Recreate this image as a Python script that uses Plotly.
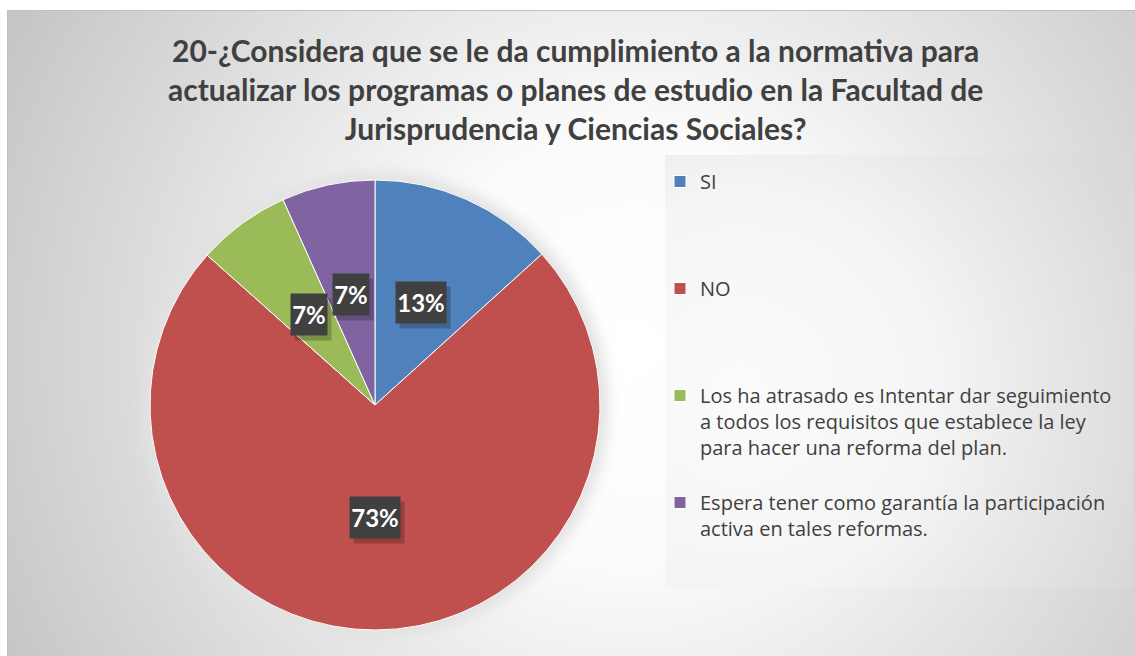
"""
Encuesta, pregunta 20: cumplimiento de la normativa para actualizar
los planes de estudio (grafico de pastel).
"""
import base64
import math

import plotly.graph_objects as go

# ---- Datos ----
categorias = [
    "SI",
    "NO",
    "Los ha atrasado es Intentar dar seguimiento<br>"
    "a todos los requisitos que establece la ley<br>"
    "para hacer una reforma del plan.",
    "Espera tener como garantía la participación<br>"
    "activa en tales reformas.",
]
porcentajes = [13.3, 73.3, 6.7, 6.7]
colores = ["#4f81bd", "#c0504d", "#9bbb59", "#8064a2"]

titulo = ("20-¿Considera que se le da cumplimiento a la normativa para<br>"
          "actualizar los programas o planes de estudio en la Facultad de<br>"
          "Jurisprudencia y Ciencias Sociales?")

# ---- Geometria (px) ----
W, H = 1135, 656
CX, CY, R = 375, 405, 225
FUENTE = "Lato, Calibri, Carlito, sans-serif"
FUENTE_LEYENDA = "'Open Sans', Calibri, sans-serif"
GRIS_TEXTO = "#404040"


def fondo_svg():
    """Fondo con degradado radial, marco, halo del pastel y caja de leyenda."""
    svg = f"""<svg xmlns="http://www.w3.org/2000/svg" width="{W}" height="{H}"
 viewBox="0 0 {W} {H}">
<defs>
 <radialGradient id="g" gradientUnits="userSpaceOnUse" cx="630" cy="350"
  r="720">
  <stop offset="0" stop-color="#ffffff"/>
  <stop offset="0.3" stop-color="#fbfbfb"/>
  <stop offset="1" stop-color="#c3c3c3"/>
 </radialGradient>
 <radialGradient id="lg" gradientUnits="userSpaceOnUse" cx="740" cy="390"
  r="430">
  <stop offset="0" stop-color="#fbfbfb"/>
  <stop offset="0.45" stop-color="#f5f5f5"/>
  <stop offset="1" stop-color="#d9d9d9"/>
 </radialGradient>
 <filter id="b" x="-20%" y="-20%" width="140%" height="140%">
  <feGaussianBlur stdDeviation="7"/>
 </filter>
</defs>
<rect x="0" y="0" width="{W}" height="{H}" fill="#ffffff"/>
<rect x="7.5" y="10.5" width="{W - 7}" height="{H - 10}" fill="url(#g)"
 stroke="#bfbfbf" stroke-width="1"/>
<rect x="665" y="155" width="467" height="433" fill="url(#lg)"/>
<circle cx="{CX}" cy="{CY}" r="{R + 8}" fill="#e2e2e2" filter="url(#b)"/>
</svg>"""
    return "data:image/svg+xml;base64," + base64.b64encode(
        svg.encode("utf-8")).decode("ascii")


def etiquetas_datos():
    """Cajas oscuras con el porcentaje, a media distancia del radio."""
    total = sum(porcentajes)
    anots = []
    acumulado = 0
    for valor in porcentajes:
        medio = (acumulado + valor / 2) / total * 2 * math.pi
        acumulado += valor
        px = CX + 0.5 * R * math.sin(medio)
        py = CY - 0.5 * R * math.cos(medio)
        texto = f"{round(valor / total * 100)}%"
        ancho = 14 * len(texto) + 8
        base = dict(x=px / W, y=1 - py / H, xref="paper", yref="paper",
                    xanchor="center", yanchor="middle",
                    showarrow=False, width=ancho, height=41, borderpad=0,
                    font=dict(family=FUENTE, size=24, color="white"))
        # sombra
        anots.append(dict(base, text=" ", xshift=4, yshift=-5,
                          bgcolor="rgba(0,0,0,0.22)"))
        anots.append(dict(base, text=f"<b>{texto}</b>",
                          bgcolor="#404040"))
    return anots


def main():
    # cada entrada de la leyenda ocupa cuatro lineas
    leyenda = []
    for cat in categorias:
        lineas = cat.count("<br>") + 1
        leyenda.append(cat + "<br> " * (4 - lineas))

    pie = go.Pie(
        labels=leyenda,
        values=porcentajes,
        sort=False,
        direction="clockwise",
        rotation=0,
        textinfo="none",
        marker=dict(colors=colores, line=dict(color="white", width=1)),
        domain=dict(x=[(CX - R) / W, (CX + R) / W],
                    y=[1 - (CY + R) / H, 1 - (CY - R) / H]),
        hovertemplate="%{percent}<extra></extra>",
    )

    titulo_anot = dict(text=f"<b>{titulo}</b>", x=575 / W, y=1 - 89 / H,
                       xref="paper", yref="paper", xanchor="center",
                       yanchor="middle", showarrow=False,
                       font=dict(family=FUENTE, size=30, color=GRIS_TEXTO))

    fig = go.Figure(data=[pie])
    fig.update_layout(
        width=W,
        height=H,
        margin=dict(l=0, r=0, t=0, b=0),
        paper_bgcolor="white",
        legend=dict(x=660 / W, xanchor="left", y=1 - 162 / H,
                    yanchor="top", valign="top", bgcolor="rgba(0,0,0,0)",
                    font=dict(family=FUENTE_LEYENDA, size=20,
                              color=GRIS_TEXTO)),
        images=[dict(source=fondo_svg(), xref="paper", yref="paper",
                     x=0, y=1, sizex=1, sizey=1, sizing="stretch",
                     xanchor="left", yanchor="top", layer="below")],
        annotations=[titulo_anot] + etiquetas_datos(),
    )
    # sin margen del body, para que la figura empiece en la esquina
    fig.write_html("out.html", config={"displayModeBar": False},
                   post_script="document.body.style.margin='0';")


if __name__ == "__main__":
    main()
